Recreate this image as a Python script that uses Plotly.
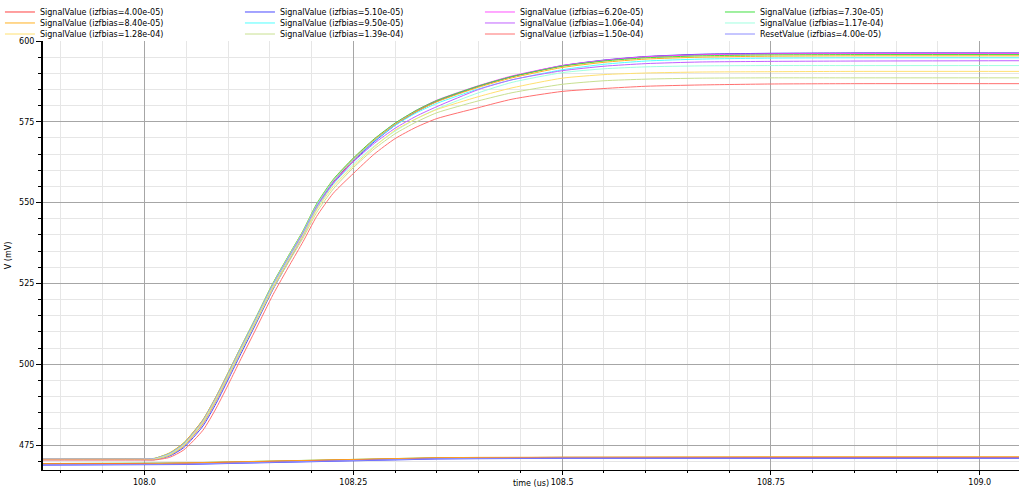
import plotly.graph_objects as go

# ---------------- data ----------------
time_us = [107.878, 108.0, 108.012, 108.03, 108.047, 108.07, 108.086, 108.102, 108.114,
           108.134, 108.154, 108.174, 108.19, 108.206, 108.226, 108.25, 108.275, 108.3,
           108.325, 108.35, 108.4, 108.44, 108.5, 108.55, 108.6, 108.665, 108.75, 108.85, 109.05]

sig_4_00e_05 = [470.6, 470.6, 470.6, 471.8, 474.6, 481.6, 488.8, 497.0, 503.3, 513.6, 524.0, 533.2, 540.4, 548.7, 556.4,
                563.1, 569.1, 574.1, 578.2, 581.4, 586.0, 589.0, 592.3, 594.0, 595.1, 595.8, 596.1, 596.2, 596.2]
sig_5_10e_05 = [470.5, 470.5, 470.5, 471.6, 474.2, 480.9, 488.0, 496.2, 502.5, 512.8, 523.2, 532.5, 539.8, 548.1, 555.9,
                562.7, 568.8, 573.9, 578.0, 581.3, 586.0, 589.0, 592.4, 594.1, 595.2, 595.9, 596.2, 596.3, 596.3]
sig_6_20e_05 = [470.7, 470.7, 470.8, 472.3, 475.3, 482.4, 489.7, 497.9, 504.2, 514.4, 524.8, 533.9, 541.1, 549.3, 557.0,
                563.6, 569.6, 574.5, 578.5, 581.7, 586.2, 589.2, 592.4, 594.0, 595.1, 595.7, 596.0, 596.1, 596.1]
sig_7_30e_05 = [470.8, 470.8, 470.9, 472.5, 475.6, 482.8, 490.1, 498.3, 504.6, 514.8, 525.2, 534.3, 541.4, 549.6, 557.2,
                563.8, 569.7, 574.6, 578.5, 581.6, 586.1, 589.0, 592.2, 593.8, 594.8, 595.4, 595.7, 595.8, 595.8]
sig_8_40e_05 = [470.8, 470.8, 470.9, 472.6, 475.7, 482.9, 490.2, 498.4, 504.6, 514.8, 525.1, 534.2, 541.3, 549.4, 557.0,
                563.5, 569.4, 574.2, 578.1, 581.2, 585.7, 588.6, 591.8, 593.4, 594.4, 595.0, 595.3, 595.4, 595.4]
sig_9_50e_05 = [470.7, 470.7, 470.8, 472.4, 475.4, 482.6, 489.9, 498.1, 504.4, 514.6, 524.9, 534.0, 541.1, 549.2, 556.8,
                563.3, 569.1, 573.9, 577.7, 580.7, 585.2, 588.0, 591.1, 592.8, 593.8, 594.4, 594.7, 594.8, 594.8]
sig_1_06e_04 = [470.7, 470.7, 470.8, 472.3, 475.3, 482.5, 489.8, 497.9, 504.2, 514.3, 524.6, 533.6, 540.7, 548.7, 556.2,
                562.6, 568.3, 573.0, 576.7, 579.7, 585.0, 588.0, 590.8, 592.2, 593.0, 593.5, 593.7, 593.8, 593.9]
sig_1_17e_04 = [470.6, 470.6, 470.7, 472.2, 475.1, 482.3, 489.5, 497.6, 503.9, 514.0, 524.3, 533.2, 540.2, 548.2, 555.6,
                561.9, 567.5, 572.1, 575.9, 579.0, 584.0, 587.2, 590.2, 591.4, 592.0, 592.3, 592.4, 592.4, 592.4]
sig_1_28e_04 = [470.6, 470.6, 470.6, 472.0, 475.0, 482.1, 489.3, 497.4, 503.6, 513.7, 523.9, 532.8, 539.8, 547.7, 555.0,
                561.3, 567.2, 572.4, 575.9, 578.8, 582.8, 585.5, 588.5, 589.6, 590.1, 590.4, 590.5, 590.6, 590.6]
sig_1_39e_04 = [470.5, 470.5, 470.5, 471.8, 474.7, 481.7, 488.9, 497.0, 503.2, 513.3, 523.4, 532.2, 539.1, 546.9, 554.2,
                560.8, 566.6, 571.3, 574.9, 577.8, 581.5, 584.0, 586.6, 587.7, 588.2, 588.5, 588.6, 588.6, 588.6]
sig_1_50e_04 = [470.4, 470.4, 470.4, 471.2, 473.5, 479.6, 486.5, 494.6, 500.9, 511.2, 521.6, 530.8, 538.0, 545.7, 552.9,
                559.0, 565.0, 569.8, 573.3, 576.0, 579.4, 582.0, 584.4, 585.3, 586.0, 586.4, 586.7, 586.8, 586.8]

reset_time_us = [107.878, 108.0, 108.05, 108.1, 108.15, 108.2, 108.25, 108.3, 108.35, 108.4, 108.5, 108.75, 109.05]
reset_4_00e_05 = [468.9, 468.9, 469.1, 469.4, 469.7, 470.0, 470.3, 470.6, 470.8, 470.9, 471.0, 471.0, 471.0]
reset_extra_orange = [469.2, 469.2, 469.5, 469.8, 470.1, 470.4, 470.7, 470.9, 471.1, 471.2, 471.3, 471.4, 471.4]
reset_extra_red = [469.2, 469.2, 469.4, 469.7, 470.0, 470.3, 470.6, 470.8, 471.0, 471.1, 471.2, 471.2, 471.2]
reset_extra_blue = [468.8, 468.8, 469.0, 469.3, 469.6, 469.9, 470.2, 470.5, 470.7, 470.8, 470.9, 470.9, 470.9]
reset_extra_green = [469.3, 469.3, 469.5, 469.8, 470.1, 470.4, 470.7, 470.9, 471.1, 471.1, 471.2, 471.2, 471.2]

signal_names = ["SignalValue (izfbias=4.00e-05)", "SignalValue (izfbias=5.10e-05)",
                "SignalValue (izfbias=6.20e-05)", "SignalValue (izfbias=7.30e-05)",
                "SignalValue (izfbias=8.40e-05)", "SignalValue (izfbias=9.50e-05)",
                "SignalValue (izfbias=1.06e-04)", "SignalValue (izfbias=1.17e-04)",
                "SignalValue (izfbias=1.28e-04)", "SignalValue (izfbias=1.39e-04)",
                "SignalValue (izfbias=1.50e-04)"]
signal_values = [sig_4_00e_05, sig_5_10e_05, sig_6_20e_05, sig_7_30e_05, sig_8_40e_05, sig_9_50e_05,
                 sig_1_06e_04, sig_1_17e_04, sig_1_28e_04, sig_1_39e_04, sig_1_50e_04]
signal_colors = ["#ff4040", "#4848ff", "#ff50ff", "#40e040", "#ffb020", "#50ffff",
                 "#c060ff", "#a0ffe0", "#ffe070", "#c8e090", "#ff7070"]
reset_name = "ResetValue (izfbias=4.00e-05)"
reset_color = "#8c8cff"
extra_resets = [reset_extra_green, reset_extra_red, reset_extra_orange, reset_extra_blue]
extra_colors = ["#60e060", "#ff3030", "#ffa020", "#4040ff"]

x_tickvals = [108.0, 108.25, 108.5, 108.75, 109.0]
x_ticktext = ["108.0", "108.25", "108.5", "108.75", "109.0"]
y_tickvals = [475, 500, 525, 550, 575, 600]
y_ticktext = ["475", "500", "525", "550", "575", "600"]

# ---------------- figure ----------------
FONT = "DejaVu Sans"
fig = go.Figure()

legend_ids = ["legend"] * 4 + ["legend2"] * 4 + ["legend3"] * 4

for ys, col in zip(extra_resets, extra_colors):
    fig.add_trace(go.Scatter(x=reset_time_us, y=ys, mode="lines", line=dict(color=col, width=1),
                             showlegend=False, hoverinfo="skip"))

for i, (name, ys, col) in enumerate(zip(signal_names, signal_values, signal_colors)):
    fig.add_trace(go.Scatter(x=time_us, y=ys, mode="lines", name=name,
                             line=dict(color=col, width=1, shape="spline", smoothing=0.6),
                             legend=legend_ids[i]))

fig.add_trace(go.Scatter(x=reset_time_us, y=reset_4_00e_05, mode="lines", name=reset_name,
                         line=dict(color=reset_color, width=1), legend=legend_ids[11]))

leg_common = dict(orientation="h", xanchor="left", x=-0.0441, yanchor="middle",
                  font=dict(family=FONT, size=8, color="#000000"),
                  bgcolor="rgba(0,0,0,0)", entrywidth=195, entrywidthmode="pixels",
                  itemclick=False, itemdoubleclick=False)

fig.update_layout(
    width=1019, height=488,
    margin=dict(l=43, r=0, t=41, b=18, autoexpand=False),
    paper_bgcolor="white", plot_bgcolor="white",
    font=dict(family=FONT, size=8, color="#000000"),
    legend=dict(y=1.0676, **leg_common),
    legend2=dict(y=1.042, **leg_common),
    legend3=dict(y=1.0163, **leg_common),
    xaxis=dict(
        range=[107.8785, 109.047],
        tickmode="array", tickvals=x_tickvals, ticktext=x_ticktext,
        ticks="outside", ticklen=4, tickcolor="#000000", tickwidth=1,
        showline=True, linecolor="#000000", linewidth=1,
        showgrid=True, gridcolor="#a6a6a6", gridwidth=1,
        zeroline=False,
        tickfont=dict(family=FONT, size=8, color="#000000"),
        minor=dict(tickmode="linear", tick0=108.0, dtick=0.05, ticks="outside", ticklen=2,
                   tickcolor="#000000", showgrid=True, gridcolor="#e6e6e6", gridwidth=1),
        title=dict(text="time (us)", font=dict(family=FONT, size=8, color="#000000"), standoff=1),
        automargin=False,
    ),
    yaxis=dict(
        range=[467.3, 600.0],
        tickmode="array", tickvals=y_tickvals, ticktext=y_ticktext,
        ticks="outside", ticklen=5, tickcolor="#000000", tickwidth=1,
        showline=True, linecolor="#000000", linewidth=2,
        showgrid=True, gridcolor="#a6a6a6", gridwidth=1,
        zeroline=False,
        tickfont=dict(family=FONT, size=8, color="#000000"),
        minor=dict(tickmode="linear", tick0=0, dtick=5, ticks="outside", ticklen=3,
                   tickcolor="#000000", showgrid=True, gridcolor="#e6e6e6", gridwidth=1),
        title=dict(text="V (mV)", font=dict(family=FONT, size=8, color="#000000"), standoff=6),
        automargin=False,
    ),
)

fig.write_html("out.html")
